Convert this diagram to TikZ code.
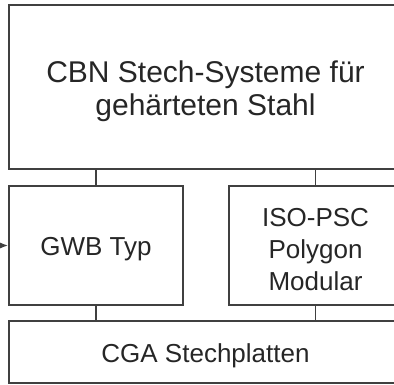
\documentclass[tikz,border=0pt]{standalone}
\usepackage{fontspec}
\setmainfont{Liberation Sans}
\usepackage{tikz}
\usetikzlibrary{arrows.meta}

\tikzset{
    box/.style={rectangle, draw=black!75, line width=1.6pt, inner sep=0pt},
    boxtext/.style={text=black!85, align=center, yshift=-4pt},
    link/.style={draw=black!75, line width=1.6pt}
}

\begin{document}
\begin{tikzpicture}[x=1pt, y=-1pt]
            \clip (0,0) rectangle (394,385);
            % Nodes
            \node[box, minimum width=393, minimum height=164,
                label={[boxtext, font=\fontsize{30}{33}\selectfont]center:CBN Stech-Systeme für\\gehärteten Stahl}] (top) at (205.5,87) {};
            \node[box, minimum width=174, minimum height=119,
                label={[boxtext, font=\fontsize{26}{32}\selectfont]center:GWB Typ}] (gwb) at (96,245.5) {};
            \node[box, minimum width=173, minimum height=119,
                label={[boxtext, font=\fontsize{26}{32}\selectfont]center:ISO-PSC\\Polygon\\Modular}] (iso) at (315.5,245.5) {};
            \node[box, minimum width=393, minimum height=62,
                label={[boxtext, font=\fontsize{26}{32}\selectfont]center:CGA Stechplatten}] (cga) at (205.5,352) {};
            \coordinate (in) at (-12,245.5);

            % Edges
            \draw[link] (gwb.north) -- (gwb.north |- top.south);
            \draw[link] (iso.north) -- (iso.north |- top.south);
            \draw[link] (gwb.south) -- (gwb.south |- cga.north);
            \draw[link] (iso.south) -- (iso.south |- cga.north);
            \draw[link, -{Latex[length=9pt, width=7pt]}] (in) -- (gwb.west);
        \end{tikzpicture}
\end{document}
